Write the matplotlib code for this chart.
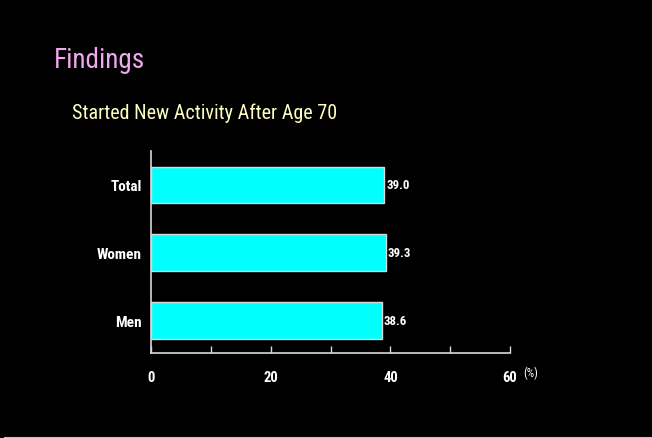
import matplotlib
matplotlib.use('Agg')
import matplotlib.pyplot as plt
from matplotlib.lines import Line2D

# data
groups = ['Men', 'Women', 'Total']
pct = [38.6, 39.3, 39.0]
x_ticks = [0, 20, 40, 60]

plt.rcParams['font.family'] = ['Roboto Condensed', 'Arial Narrow', 'Liberation Sans Narrow',
                               'Roboto', 'DejaVu Sans']

fig = plt.figure(figsize=(6.52, 4.39), dpi=100, facecolor='black')
ax = fig.add_axes([151.3 / 652, 1 - 354 / 439, (510 - 151.3) / 652, (354 - 152) / 439])
ax.set_facecolor('black')

ypos = list(range(len(groups)))
ax.barh(ypos, pct, height=0.54, color='#00ffff', edgecolor='#d8d8d8', linewidth=1.0)
for y, v in zip(ypos, pct):
    ax.text(v + 0.3, y, f'{v:.1f}', color='white', fontsize=9.3, fontweight='bold',
            va='center', ha='left')

ax.set_xlim(0, 60)
ax.set_ylim(-0.48, 2.5)
ax.set_yticks(ypos)
ax.set_yticklabels(groups, color='white', fontsize=11, fontweight='bold')
ax.set_xticks(x_ticks)
ax.set_xticklabels([str(t) for t in x_ticks], color='white', fontsize=10.5, fontweight='bold')
ax.set_xticks(range(0, 61, 10), minor=True)
ax.tick_params(axis='x', which='both', direction='in', length=5, color='#d8d8d8',
               width=1, pad=12)
ax.tick_params(axis='y', length=0, pad=7)
for side in ['top', 'right']:
    ax.spines[side].set_visible(False)
for side in ['left', 'bottom']:
    ax.spines[side].set_color('#d8d8d8')
    ax.spines[side].set_linewidth(1.2)

fig.text(523 / 652, 1 - 377 / 439, '(%)', color='white', fontsize=8.5,
         ha='left', va='baseline')

fig.text(54 / 652, 1 - 68 / 439, 'Findings', color='#f0a8f0', fontsize=19.5,
         ha='left', va='baseline')
fig.text(72 / 652, 1 - 119 / 439, 'Started New Activity After Age 70', color='#ffffc0',
         fontsize=14.5, ha='left', va='baseline')

# thin frame line along the bottom edge
fig.add_artist(Line2D([4 / 652, 1], [0.6 / 439, 0.6 / 439], color='#c0c0c0', linewidth=0.8,
                      transform=fig.transFigure))

fig.savefig('out.png', dpi=100, facecolor='black')
